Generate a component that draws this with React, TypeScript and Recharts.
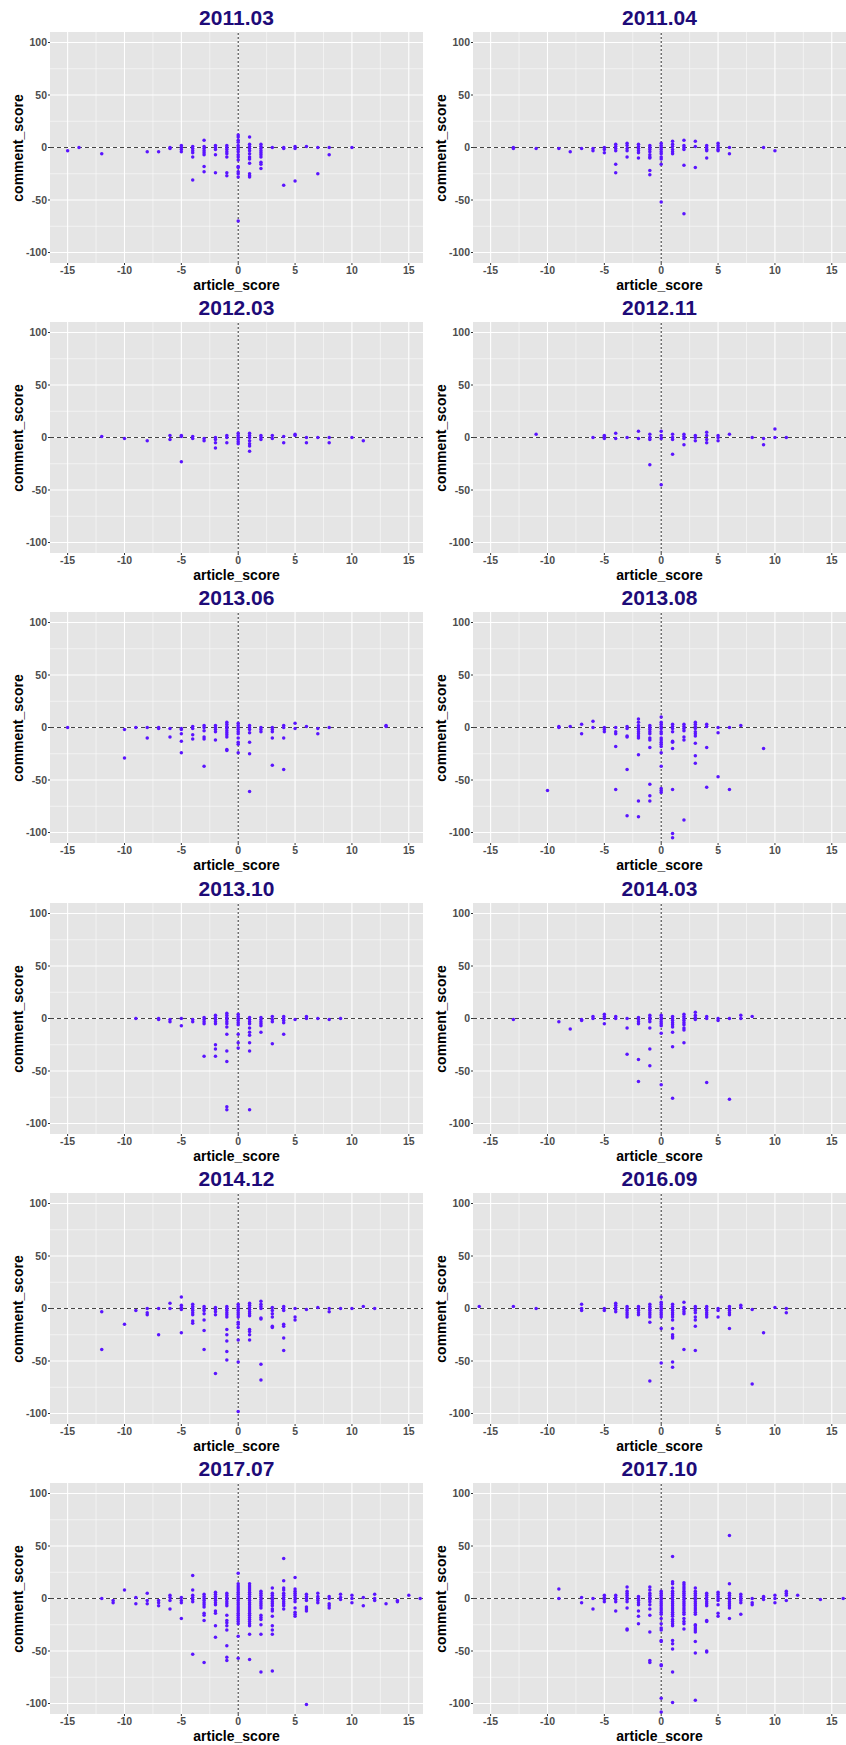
import { ScatterChart, Scatter, XAxis, YAxis, CartesianGrid, ReferenceLine } from 'recharts'

// each entry: [article_score, [comment_score, ...]]
type Column = [number, number[]]

const d2011_03: Column[] = [
  [-15, [-3]], [-14, [0]], [-12, [-6]], [-8, [-4]], [-7, [-4]], [-6, [-1, 0]],
  [-5, [2, 0, -2, -4]], [-4, [1, -1, -3, -5, -9, -31]], [-3, [7, 1, -1, -3, -5, -7, -18, -23]],
  [-2, [2, 0, -2, -7, -24]], [-1, [2, 0, -2, -4, -6, -9, -24, -27]],
  [0, [12, 10, 7, 5, 2, 0, -2, -4, -7, -9, -12, -18, -19, -23, -25, -28, -70]],
  [1, [10, 3, 1, -1, -3, -6, -9, -11, -15, -25, -27, -28]],
  [2, [3, 1, -1, -3, -5, -7, -9, -14, -16, -20]], [3, [0]], [4, [0, -1, -36]], [5, [1, -1, -32]],
  [6, [1]], [7, [0, -25]], [8, [0, -7]], [10, [0]],
]

const d2011_04: Column[] = [
  [-13, [0, -1]], [-11, [-1]], [-9, [-1]], [-8, [-4]], [-7, [-1]], [-6, [-1, -3]], [-5, [0, -2, -5]],
  [-4, [3, 1, -1, -3, -16, -24]], [-3, [4, 2, -1, -3, -9]], [-2, [3, 1, -1, -3, -5, -10]],
  [-1, [2, 0, -2, -4, -7, -9, -10, -22, -26]], [0, [4, 2, 0, -2, -4, -6, -9, -11, -16, -52]],
  [1, [6, 3, 1, -2, -4, -6]], [2, [7, 2, 0, -2, -17, -63]], [3, [6, 1, -19]],
  [4, [2, 0, -2, -3, -10]], [5, [4, 2, 0, -2, -3]], [6, [0, -6]], [9, [0]], [10, [-3]],
]

const d2012_03: Column[] = [
  [-12, [1]], [-10, [-1]], [-8, [-3]], [-6, [2, -2]], [-5, [2, 1, -23]], [-4, [1, -1]], [-3, [-1, -3]],
  [-2, [0, -2, -5, -10]], [-1, [2, 0, -5]], [0, [4, 2, 0, -2, -4, -6]], [1, [4, 2, 0, -3, -6, -8, -13]],
  [2, [2, 0, -2]], [3, [2, -1]], [4, [1, -5]], [5, [3, 2]], [6, [0, -5]], [7, [0]], [8, [0, -5]],
  [10, [0]], [11, [-3]],
]

const d2012_11: Column[] = [
  [-11, [3]], [-6, [0]], [-5, [2, 1, -1]], [-4, [4, -1]], [-3, [0]], [-2, [6, -1]], [-1, [3, 0, -2, -26]],
  [0, [6, 2, -1, -45]], [1, [3, 0, -2, -16]], [2, [3, 1, -1, -7]], [3, [2, 0, -3]], [4, [5, 2, -2, -5]],
  [5, [2, 0, -3]], [6, [3]], [8, [0]], [9, [-1, -7]], [10, [8, 0]], [11, [0]],
]

const d2013_06: Column[] = [
  [-15, [0]], [-10, [-2, -29]], [-9, [0]], [-8, [0, -10]], [-7, [0, -1]], [-6, [-1, -9]],
  [-5, [-1, -2, -6, -13, -24]], [-4, [1, -1, -7, -11]], [-3, [2, 0, -3, -9, -11, -37]],
  [-2, [2, 0, -2, -4, -12]], [-1, [5, 3, 1, -1, -3, -5, -7, -9, -21, -22]],
  [0, [4, 2, 0, -2, -4, -6, -10, -14, -16, -24]], [1, [2, 0, -2, -5, -14, -25, -61]], [2, [0, -2, -4]],
  [3, [0, -2, -4, -10, -36]], [4, [2, 0, -10, -40]], [5, [4, -1]], [6, [1]], [7, [-1, -6]], [8, [0]],
  [13, [2, 1]],
]

const d2013_08: Column[] = [
  [-10, [-60]], [-9, [1, 0]], [-8, [1]], [-7, [3, -6]], [-6, [6, 0]], [-5, [0, -2, -4]],
  [-4, [0, -4, -6, -18, -59]], [-3, [1, -1, -8, -9, -40, -84]],
  [-2, [8, 5, 2, 0, -2, -4, -6, -8, -10, -26, -70, -85]],
  [-1, [2, 0, -2, -4, -6, -10, -12, -19, -54, -65, -70]],
  [0, [10, 5, 3, 1, -1, -4, -6, -10, -12, -14, -16, -18, -24, -37, -58, -60, -62]],
  [1, [3, 1, -1, -4, -13, -14, -20, -59, -101, -105]], [2, [3, 1, -1, -3, -9, -12, -88]],
  [3, [5, 3, 1, -1, -4, -6, -8, -15, -27, -34]], [4, [3, 1, -19, -57]], [5, [0, -5, -47]],
  [6, [0, -59]], [7, [2]], [9, [-20]],
]

const d2013_10: Column[] = [
  [-9, [0]], [-7, [0, -1]], [-6, [-1, -3]], [-5, [0, -7]], [-4, [-1, -3]], [-3, [1, -1, -3, -5, -36]],
  [-2, [3, 1, -1, -3, -5, -25, -29, -36]], [-1, [5, 3, 1, -1, -3, -5, -8, -15, -31, -41, -84, -87]],
  [0, [4, 2, 0, -2, -4, -6, -15, -23, -28]], [1, [1, -1, -3, -5, -9, -13, -16, -23, -31, -87]],
  [2, [1, -1, -3, -5, -7, -13]], [3, [2, -1, -3, -24]], [4, [2, 0, -2, -4, -15]], [5, [-1]],
  [6, [2, 0]], [7, [0]], [8, [-1]], [9, [0]],
]

const d2014_03: Column[] = [
  [-13, [-1]], [-9, [-3]], [-8, [-10]], [-7, [-1, -2]], [-6, [2, 0]], [-5, [4, 2, 0, -5]], [-4, [2, 0]],
  [-3, [0, -9, -34]], [-2, [1, -1, -3, -5, -39, -60]], [-1, [3, 1, -1, -3, -9, -29, -45]],
  [0, [3, 1, -1, -3, -5, -7, -14, -63]], [1, [2, 0, -2, -4, -6, -8, -13, -27, -76]],
  [2, [4, 2, 0, -2, -4, -6, -9, -11, -23]], [3, [6, 3, 1, -1]], [4, [2, 0, -61]], [5, [0, -2]],
  [6, [0, -77]], [7, [3, 0]], [8, [2]],
]

const d2014_12: Column[] = [
  [-12, [-3, -39]], [-10, [-15]], [-9, [-2]], [-8, [0, -4, -6]], [-7, [0, -25]], [-6, [5, 0]],
  [-5, [11, 3, 1, -1, -23]], [-4, [4, 2, 0, -2, -4, -6, -12, -14]], [-3, [2, 0, -2, -5, -11, -21, -39]],
  [-2, [1, -1, -3, -6, -62]], [-1, [2, 0, -2, -4, -6, -8, -20, -25, -31, -41, -49]],
  [0, [4, 2, 0, -2, -4, -6, -8, -13, -15, -18, -30, -51, -98]],
  [1, [5, 3, 1, -1, -3, -5, -7, -20, -22, -25, -30]], [2, [7, 4, 2, 0, -9, -10, -53, -68]],
  [3, [1, -2, -5, -8, -17, -18]], [4, [2, 0, -2, -15, -17, -28, -40]], [5, [0, -8, -11]], [6, [-1]],
  [7, [1]], [8, [0, -3]], [9, [0]], [10, [0]], [11, [2]], [12, [0]],
]

const d2016_09: Column[] = [
  [-16, [2]], [-13, [2]], [-11, [0]], [-7, [4, 0, -2]], [-5, [0, -2]], [-4, [5, 3, 1, -1, -3]],
  [-3, [2, 0, -2, -4, -6, -8]], [-2, [2, 0, -2, -4, -6]], [-1, [4, 2, 0, -2, -4, -6, -8, -13, -69]],
  [0, [11, 6, 4, 2, 0, -2, -4, -6, -8, -19, -52]],
  [1, [4, 2, 0, -2, -4, -6, -8, -11, -19, -25, -27, -28, -51, -56]], [2, [6, 1, -1, -3, -5, -39]],
  [3, [2, 0, -2, -4, -8, -11, -17, -40]], [4, [2, 0, -2, -4, -6, -8]], [5, [0, -2, -8]],
  [6, [2, 0, -2, -4, -6, -19]], [7, [3, 1]], [8, [-1, -72]], [9, [-23]], [10, [1]], [11, [0, -4]],
]

const d2017_07: Column[] = [
  [-12, [0]], [-11, [-2, -4]], [-10, [8]], [-9, [1, -5]], [-8, [5, -2, -5]], [-7, [-2, -4, -7]],
  [-6, [3, 1, -2, -10]], [-5, [1, -2, -4, -19]], [-4, [22, 8, 3, 1, -1, -3, -53]],
  [-3, [4, 2, 0, -2, -4, -6, -8, -14, -16, -21, -61]],
  [-2, [6, 4, 2, 0, -2, -4, -6, -12, -14, -26, -37]],
  [-1, [5, 3, 1, -1, -3, -5, -7, -16, -21, -23, -26, -30, -45, -56, -59]],
  [0, [24, 14, 12, 10, 8, 6, 4, 2, 0, -2, -4, -6, -8, -10, -12, -14, -16, -18, -20, -22, -24, -36, -57]],
  [1, [14, 12, 10, 8, 6, 4, 2, 0, -2, -4, -6, -8, -10, -12, -14, -16, -18, -20, -22, -24, -26, -34, -58]],
  [2, [7, 5, 3, 1, -1, -3, -5, -7, -9, -16, -18, -20, -25, -34, -70]],
  [3, [10, 5, 3, 1, -1, -3, -5, -7, -10, -12, -17, -26, -30, -34, -69]],
  [4, [38, 17, 10, 8, 5, 3, 1, -1, -3, -5, -7, -10]],
  [5, [20, 9, 7, 5, 3, 1, -1, -3, -9, -13, -15, -17]], [6, [4, 2, 0, -2, -8, -10, -12, -101]],
  [7, [5, 2, 0, -2, -4]], [8, [2, 0, -5, -7, -9]], [9, [4, 1, -1]], [10, [3, 0, -4]], [11, [1, -7]],
  [12, [4, 0, -2]], [13, [-5]], [14, [-2, -3]], [15, [3]], [16, [0]],
]

const d2017_10: Column[] = [
  [-9, [9, 0]], [-7, [1, -4]], [-6, [0, -10]], [-5, [3, 1, -1, -3]], [-4, [3, 1, -1, -3, -12]],
  [-3, [11, 7, 5, 3, 1, -1, -3, -9, -29, -30]], [-2, [2, 0, -2, -4, -6, -12, -17, -24]],
  [-1, [11, 8, 5, 3, 1, -1, -3, -6, -10, -16, -32, -59, -61]],
  [0, [7, 5, 3, 1, -1, -3, -5, -7, -9, -11, -13, -15, -19, -24, -28, -30, -40, -41, -63, -64, -95, -108]],
  [1, [40, 16, 14, 10, 7, 5, 3, 1, -1, -3, -5, -7, -9, -11, -13, -15, -17, -20, -22, -24, -26, -40, -43, -48, -70, -99]],
  [2, [15, 13, 11, 9, 7, 5, 3, 1, -1, -3, -5, -7, -9, -11, -13, -15, -19, -22, -24, -29]],
  [3, [10, 7, 5, 3, 1, -1, -3, -5, -7, -9, -11, -13, -15, -25, -26, -28, -30, -32, -41, -52, -97]],
  [4, [5, 3, 1, -1, -3, -5, -7, -21, -22, -50, -51]], [5, [6, 4, 2, 0, -2, -6, -14, -17]],
  [6, [60, 14, 5, 3, 1, -1, -3, -5, -7, -9, -19]], [7, [4, 2, 0, -2, -4, -15]], [8, [0, -4, -6]],
  [9, [2, 1, -1]], [10, [3, 0, -4]], [11, [7, 5, 3, -2]], [12, [3]], [14, [-1]], [16, [0]],
]

const PANEL_TITLES = [
  '2011.03', '2011.04', '2012.03', '2012.11', '2013.06', '2013.08',
  '2013.10', '2014.03', '2014.12', '2016.09', '2017.07', '2017.10',
]
const PANEL_DATA = [
  d2011_03, d2011_04, d2012_03, d2012_11, d2013_06, d2013_08,
  d2013_10, d2014_03, d2014_12, d2016_09, d2017_07, d2017_10,
]

const X_TICKS = [-15, -10, -5, 0, 5, 10, 15]
const X_MINOR = [-12.5, -7.5, -2.5, 2.5, 7.5, 12.5]
const Y_TICKS = [-100, -50, 0, 50, 100]
const Y_MINOR = [-75, -25, 25, 75]

const PANEL_W = 423
const PANEL_H = 291
const ROW_PITCH = 290.2
const FONT = '"Liberation Sans", Arial, Helvetica, sans-serif'
const POINT_COLOR = '#5A14FF'

const flatten = (cols: Column[]) =>
  cols.flatMap(([x, ys]) => ys.map((y) => ({ x, y })))

const Dot = (props: any) => <circle cx={props.cx} cy={props.cy} r={1.75} fill={POINT_COLOR} />

const tickStyle = { fill: '#4D4D4D', fontSize: 10.5, fontWeight: 'bold' }

function Panel({ title, data, left, top }: { title: string; data: Column[]; left: number; top: number }) {
  const points = flatten(data)
  return (
    <div style={{ position: 'absolute', left, top, width: PANEL_W, height: PANEL_H }}>
      <ScatterChart width={PANEL_W} height={PANEL_H} margin={{ top: 32, right: 0, bottom: 0, left: 0 }}>
        <CartesianGrid
          fill="#E5E5E5"
          stroke="#FFFFFF"
          strokeWidth={1.1}
          horizontalValues={Y_TICKS}
          verticalValues={X_TICKS}
        />
        {X_MINOR.map((v) => (
          <ReferenceLine key={'xm' + v} x={v} stroke="#FFFFFF" strokeWidth={0.5} />
        ))}
        {Y_MINOR.map((v) => (
          <ReferenceLine key={'ym' + v} y={v} stroke="#FFFFFF" strokeWidth={0.5} />
        ))}
        <XAxis
          type="number"
          dataKey="x"
          domain={[-16.55, 16.25]}
          ticks={X_TICKS}
          interval={0}
          allowDataOverflow
          height={28}
          axisLine={false}
          tickSize={2}
          tickMargin={1.5}
          tickLine={{ stroke: '#333333' }}
          tick={tickStyle}
        />
        <YAxis
          type="number"
          dataKey="y"
          domain={[-110, 110]}
          ticks={Y_TICKS}
          interval={0}
          allowDataOverflow
          width={50}
          axisLine={false}
          tickSize={2}
          tickMargin={1}
          tickLine={{ stroke: '#333333' }}
          tick={tickStyle}
        />
        <ReferenceLine y={0} stroke="#444444" strokeWidth={1.1} strokeDasharray="4 3" />
        <ReferenceLine x={0} stroke="#444444" strokeWidth={1.1} strokeDasharray="2 2" />
        <Scatter data={points} fill={POINT_COLOR} shape={Dot} isAnimationActive={false} />
      </ScatterChart>
      <div
        style={{
          position: 'absolute', left: 50, top: 6.7, width: 373, fontSize: 21, lineHeight: '21px',
          fontWeight: 'bold', color: '#1E0B78', textAlign: 'center',
        }}
      >
        {title}
      </div>
      <div
        style={{
          position: 'absolute', left: 50, top: 277.5, width: 373, fontSize: 14, lineHeight: '14px',
          fontWeight: 'bold', color: '#000000', textAlign: 'center',
        }}
      >
        article_score
      </div>
      <div
        style={{
          position: 'absolute', left: 17.85 - 100, top: 148 - 7, width: 200, height: 14, fontSize: 14,
          lineHeight: '14px', fontWeight: 'bold', color: '#000000', textAlign: 'center',
          transform: 'rotate(-90deg)',
        }}
      >
        comment_score
      </div>
    </div>
  )
}

export default function App() {
  return (
    <div
      style={{
        position: 'absolute', left: 0, top: 0, width: 846, height: 1745, background: '#FFFFFF',
        fontFamily: FONT, overflow: 'hidden',
      }}
    >
      {PANEL_TITLES.map((title, i) => (
        <Panel
          key={title}
          title={title}
          data={PANEL_DATA[i]}
          left={(i % 2) * PANEL_W}
          top={Math.round(Math.floor(i / 2) * ROW_PITCH)}
        />
      ))}
    </div>
  )
}
